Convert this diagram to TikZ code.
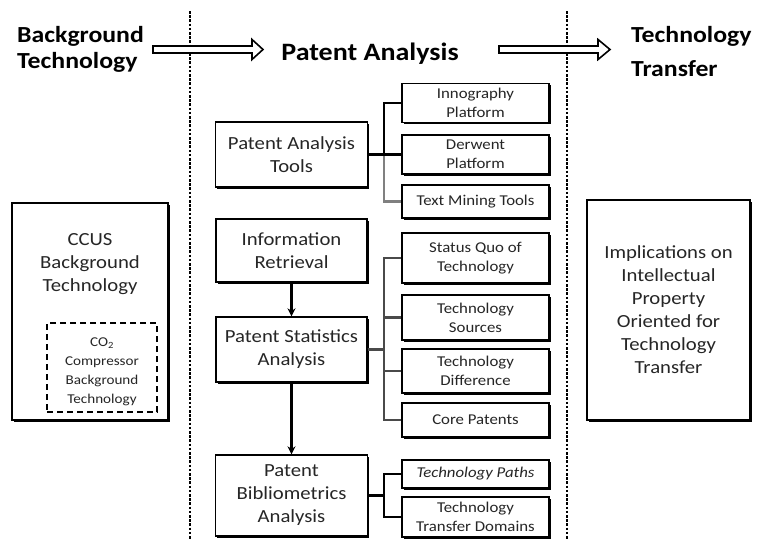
\documentclass[tikz,border=0pt]{standalone}
\usepackage{fontspec}
\setmainfont{Carlito}[FakeStretch=1.12]
\usetikzlibrary{arrows.meta,shadows}
\definecolor{txt}{HTML}{262626}
\definecolor{lgray}{HTML}{808080}
\definecolor{dgray}{HTML}{4A4A4A}
\begin{document}
\begin{tikzpicture}[x=1pt,y=-1pt,
  box/.style={draw=black, line width=1.4pt, fill=white, align=center, inner sep=0pt, text=txt,
    drop shadow={opacity=1, fill=black, shadow xshift=1.6pt, shadow yshift=-1.6pt}},
  bigtxt/.style={font=\fontsize{18.5}{23}\selectfont},
  smalltxt/.style={font=\fontsize{15}{19}\selectfont},
  headtxt/.style={font=\fontsize{23}{28}\selectfont\bfseries, inner sep=0pt, text=black},
  vdash/.style={line width=2pt, dash pattern=on 2.6pt off 1.6pt},
  blockarrow/.style={draw=black, line width=1.6pt, fill=white},
  varrow/.style={line width=2.2pt, -{Stealth[length=8pt,width=8pt]}},
  conn/.style={line width=2.2pt},
]
\useasboundingbox (0,0) rectangle (759,539);

% column separators
\draw[vdash] (190,11) -- (190,539);
\draw[vdash] (567,11) -- (567,539);

% headings
\node[headtxt, anchor=base west] (bg1) at (17,42) {Background};
\node[headtxt, anchor=base west] (bg2) at (17,68) {Technology};
\node[headtxt, anchor=base, font=\fontsize{25}{30}\selectfont\bfseries] (pa) at (370,60) {Patent Analysis};
\node[headtxt, anchor=base west] (tt1) at (631,42) {Technology};
\node[headtxt, anchor=base west] (tt2) at (631,76) {Transfer};

% block arrows
\draw[blockarrow] (153,46) -- (252,46) -- (252,39.5) -- (263,49.5) -- (252,59.5) -- (252,53) -- (153,53) -- cycle;
\draw[blockarrow] (499,46) -- (598,46) -- (598,39.5) -- (610,49.5) -- (598,59.5) -- (598,53) -- (499,53) -- cycle;

% left column
\node[box, minimum width=156pt, minimum height=217pt] (ccus) at (90,311.5) {};
\node[bigtxt, text=txt, align=center, inner sep=0pt] (ccustxt) at (90,264) {CCUS\\Background\\Technology};
\node[draw=black, line width=1.5pt, dash pattern=on 6pt off 4pt, fill=white, minimum width=110pt, minimum height=89pt, inner sep=0pt] (co2box) at (102,367.5) {};
\node[font=\fontsize{13.5}{19}\selectfont, text=txt, align=center, inner sep=0pt] (co2txt) at (102,372) {CO\textsubscript{2}\\Compressor\\Background\\Technology};

% right column
\node[box, bigtxt, minimum width=163pt, minimum height=220pt] (impl) at (668.5,310) {Implications on\\Intellectual\\Property\\Oriented for\\Technology\\Transfer};

% middle column: main boxes
\node[box, bigtxt, minimum width=152pt, minimum height=65pt] (pat) at (291.5,154.5) {Patent Analysis\\Tools};
\node[box, bigtxt, minimum width=151pt, minimum height=63pt] (ir) at (291.5,250.5) {Information\\Retrieval};
\node[box, bigtxt, minimum width=151pt, minimum height=65pt] (psa) at (291.5,349.5) {Patent Statistics\\Analysis};
\node[box, bigtxt, minimum width=152pt, minimum height=81pt] (pba) at (291.5,495.5) {Patent\\Bibliometrics\\Analysis};

% middle column: sub boxes
\node[box, smalltxt, minimum width=147pt, minimum height=39pt] (inno) at (475.5,103) {Innography\\Platform};
\node[box, smalltxt, minimum width=147pt, minimum height=39pt] (der) at (475.5,154.5) {Derwent\\Platform};
\node[box, smalltxt, minimum width=147pt, minimum height=33pt] (tm) at (475.5,201.5) {Text Mining Tools};

\node[box, smalltxt, minimum width=147pt, minimum height=50pt] (sq) at (475.5,258) {Status Quo of\\Technology};
\node[box, smalltxt, minimum width=147pt, minimum height=45pt] (ts) at (475.5,317.5) {Technology\\Sources};
\node[box, smalltxt, minimum width=147pt, minimum height=44pt] (td) at (475.5,371) {Technology\\Difference};
\node[box, smalltxt, minimum width=147pt, minimum height=34pt] (cp) at (475.5,420) {Core Patents};

\node[box, smalltxt, minimum width=147pt, minimum height=28pt] (tp) at (475.5,474) {\itshape Technology Paths};
\node[box, smalltxt, minimum width=147pt, minimum height=40pt] (ttd) at (475.5,517) {Technology\\Transfer Domains};

% connectors: tools tree
\draw[conn, lgray] (pat.east) -- ++(16,0) |- (tm.west);
\draw[conn, black] (pat.east) -- ++(16,0) |- (inno.west);
\draw[conn, black] (pat.east) -- (der.west);

% connectors: statistics tree
\draw[conn, dgray] (psa.east) -- ++(16,0) |- (sq.west);
\draw[conn, dgray] (psa.east) -- ++(16,0) |- (ts.west);
\draw[conn, dgray] (psa.east) -- ++(16,0) |- (td.west);
\draw[conn, dgray] (psa.east) -- ++(16,0) |- (cp.west);

% connectors: bibliometrics tree
\draw[conn, black] (pba.east) -- ++(16,0) |- (tp.west);
\draw[conn, black] (pba.east) -- ++(16,0) |- (ttd.west);

% flow arrows
\draw[varrow] (ir.south) -- (psa.north);
\draw[varrow] (psa.south) -- (pba.north);
\end{tikzpicture}
\end{document}
